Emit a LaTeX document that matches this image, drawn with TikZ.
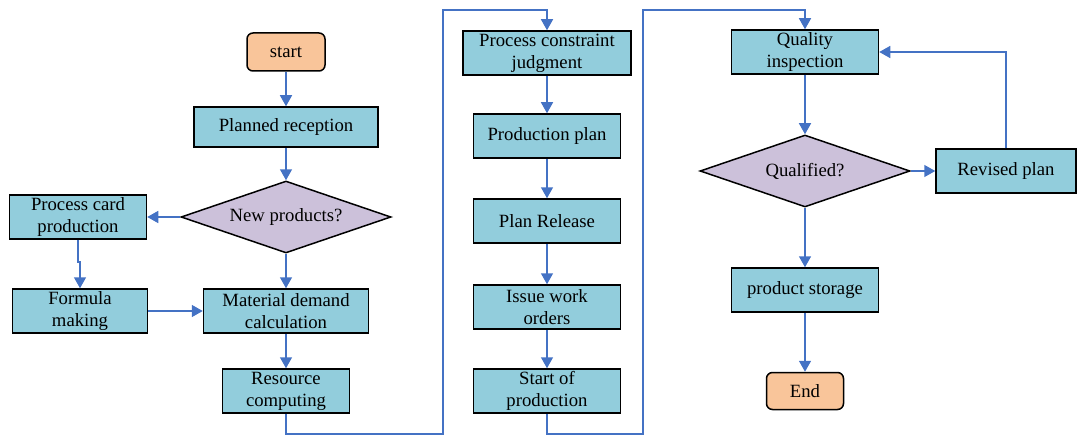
\documentclass[tikz,border=0pt]{standalone}
\usepackage{fontspec}
\setmainfont{Liberation Serif}
\usetikzlibrary{shapes.geometric,arrows.meta,positioning}
\definecolor{boxblue}{HTML}{92CDDC}
\definecolor{termorange}{HTML}{F9C59A}
\definecolor{decpurple}{HTML}{CCC1DA}
\definecolor{flowblue}{HTML}{4472C4}

\begin{document}
\begin{tikzpicture}[x=1pt, y=-1pt, font=\fontsize{18.7}{22}\selectfont]
    \tikzstyle{box}=[draw=black, fill=boxblue, line width=1.5pt, inner sep=0pt, align=center, minimum width=147, minimum height=44]
    \tikzstyle{term}=[box, fill=termorange, rounded corners=6pt, minimum width=78, minimum height=38]
    \tikzstyle{decision}=[diamond, aspect=2.92, draw=black, fill=decpurple, line width=1.5pt, inner sep=0pt, minimum width=210, minimum height=72]
    \tikzstyle{flow}=[draw=flowblue, line width=1.5pt, -{Triangle[length=11pt,width=12pt]}]

    \useasboundingbox (0,0) rectangle (1077,436);

    % first column
    \node[term] (start) at (286,52) {start};
    \node[box, minimum width=184, minimum height=40] (plan) at (286,127) {Planned reception};
    \node[decision] (newp) at (286,217) {New products?};
    \node[box, minimum width=137] (pcard) at (78,217) {Process card\\production};
    \node[box, minimum width=135] (formula) at (80,311) {Formula\\making};
    \node[box, minimum width=165] (material) at (286,311) {Material demand\\calculation};
    \node[box, minimum width=127] (resource) at (286,391) {Resource\\computing};

    % second column
    \node[box, minimum width=168] (constraint) at (547,53) {Process constraint\\judgment};
    \node[box] (prodplan) at (547,136) {Production plan};
    \node[box] (release) at (547,221) {Plan Release};
    \node[box] (orders) at (547,307) {Issue work\\orders};
    \node[box] (startprod) at (547,391) {Start of\\production};

    % third column
    \node[box] (quality) at (805,52) {Quality\\inspection};
    \node[decision] (qualified) at (805,171) {Qualified?};
    \node[box, minimum width=140] (revised) at (1006,171) {Revised plan};
    \node[box] (storage) at (805,290) {product storage};
    \node[term, minimum width=77, minimum height=37] (end) at (805,391) {End};

    \coordinate (hop1) at (443,10);
    \coordinate (hop2) at (643,10);

    % edges
    \draw[flow] (start) -- (plan);
    \draw[flow] (plan) -- (newp);
    \draw[flow] (newp.west) -- (pcard.east);
    \draw[flow] (pcard.south) -- ++(0,22) -| (formula.north);
    \draw[flow] (formula) -- (material);
    \draw[flow] (newp.south) -- (material.north);
    \draw[flow] (material) -- (resource);
    \draw[flow] (resource.south) -- ++(0,20) -| (hop1) -| (constraint.north);

    \draw[flow] (constraint) -- (prodplan);
    \draw[flow] (prodplan) -- (release);
    \draw[flow] (release) -- (orders);
    \draw[flow] (orders) -- (startprod);
    \draw[flow] (startprod.south) -- ++(0,20) -| (hop2) -| (quality.north);

    \draw[flow] (quality) -- (qualified);
    \draw[flow] (qualified.east) -- (revised.west);
    \draw[flow] (revised.north) |- (quality.east);
    \draw[flow] (qualified.south) -- (storage.north);
    \draw[flow] (storage) -- (end);
\end{tikzpicture}
\end{document}
